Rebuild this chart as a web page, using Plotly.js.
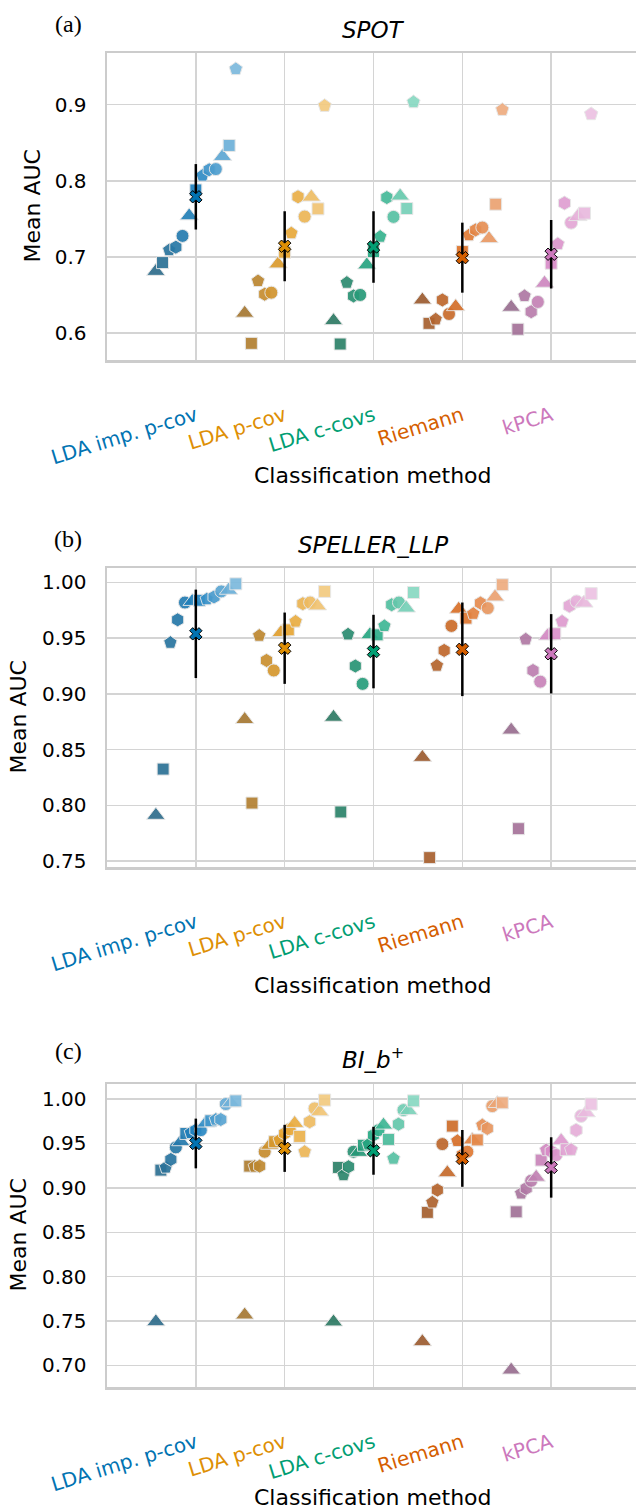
<!DOCTYPE html>
<html>
<head>
<meta charset="utf-8">
<script src="https://cdn.plot.ly/plotly-3.0.1.min.js"></script>
<style>
html,body{margin:0;padding:0;overflow:hidden;background:#fff;}
#chart{width:640px;height:1511px;}
</style>
</head>
<body>
<div id="chart"></div>
<script>
// ---------------- DATA ----------------
const methods = ["LDA imp. p-cov", "LDA p-cov", "LDA c-covs", "Riemann", "kPCA"];
const panelTitles = ["SPOT", "SPELLER_LLP", "BI_b<sup>+</sup>"];
const panelLabels = ["(a)", "(b)", "(c)"];

// SPOT (13 subjects, in plotted order)
const spot_lda_imp   = [0.681, 0.6925, 0.709, 0.7128, 0.7276, 0.754, 0.788, 0.807, 0.8145, 0.8154, 0.832, 0.8465, 0.947];
const spot_lda_pcov  = [0.626, 0.5864, 0.6684, 0.651, 0.653, 0.6908, 0.7062, 0.7312, 0.779, 0.753, 0.7786, 0.7632, 0.8987];
const spot_lda_ccovs = [0.6162, 0.5855, 0.6662, 0.6487, 0.650, 0.6895, 0.707, 0.7267, 0.778, 0.7526, 0.780, 0.7636, 0.9035];
const spot_riemann   = [0.6434, 0.6127, 0.618, 0.6434, 0.625, 0.6346, 0.707, 0.7286, 0.7355, 0.7386, 0.724, 0.7693, 0.8934];
const spot_kpca      = [0.6338, 0.6049, 0.6487, 0.628, 0.6408, 0.6654, 0.6917, 0.717, 0.7707, 0.745, 0.753, 0.7575, 0.8878];
const spot_mean = [0.779, 0.714, 0.713, 0.699, 0.7035];
const spot_sd   = [0.043, 0.046, 0.047, 0.046, 0.045];

// SPELLER_LLP (12 subjects)
const llp_lda_imp   = [0.791, 0.8325, 0.946, 0.9665, 0.982, 0.983, 0.984, 0.985, 0.987, 0.992, 0.993, 0.9988];
const llp_lda_pcov  = [0.877, 0.802, 0.9523, 0.930, 0.921, 0.955, 0.9575, 0.965, 0.981, 0.982, 0.979, 0.992];
const llp_lda_ccovs = [0.879, 0.794, 0.9535, 0.925, 0.909, 0.953, 0.953, 0.961, 0.980, 0.982, 0.977, 0.991];
const llp_riemann   = [0.843, 0.753, 0.9254, 0.939, 0.961, 0.976, 0.968, 0.972, 0.9815, 0.977, 0.987, 0.998];
const llp_kpca      = [0.8675, 0.779, 0.949, 0.921, 0.911, 0.952, 0.954, 0.965, 0.979, 0.983, 0.9815, 0.990];
const llp_mean = [0.9539, 0.941, 0.938, 0.940, 0.936];
const llp_sd   = [0.0397, 0.032, 0.033, 0.042, 0.0356];

// BI_b+ (17 subjects)
const bi_lda_imp   = [0.7492, 0.920, 0.923, 0.932, 0.9456, 0.952, 0.9613, 0.962, 0.965, 0.965, 0.973, 0.9756, 0.977, 0.977, 0.9944, 0.9958, 0.998];
const bi_lda_pcov  = [0.7568, 0.9245, 0.924, 0.9245, 0.9407, 0.948, 0.952, 0.954, 0.9613, 0.966, 0.9726, 0.958, 0.9407, 0.9745, 0.9895, 0.9857, 0.9989];
const bi_lda_ccovs = [0.749, 0.923, 0.9144, 0.9238, 0.9407, 0.940, 0.948, 0.949, 0.9595, 0.965, 0.9707, 0.9546, 0.933, 0.9718, 0.9876, 0.987, 0.998];
const bi_riemann   = [0.7267, 0.8724, 0.8837, 0.8975, 0.9493, 0.917, 0.9696, 0.953, 0.937, 0.9407, 0.954, 0.954, 0.9707, 0.967, 0.9921, 0.995, 0.9958];
const bi_kpca      = [0.6948, 0.873, 0.8938, 0.8994, 0.908, 0.912, 0.9313, 0.9426, 0.941, 0.937, 0.953, 0.943, 0.943, 0.965, 0.981, 0.9846, 0.9944];
const bi_mean = [0.950, 0.9445, 0.9418, 0.9332, 0.923];
const bi_sd   = [0.028, 0.0265, 0.027, 0.032, 0.034];

const yTicksA = [0.6, 0.7, 0.8, 0.9];
const yTicksB = [0.75, 0.80, 0.85, 0.90, 0.95, 1.00];
const yTicksC = [0.70, 0.75, 0.80, 0.85, 0.90, 0.95, 1.00];

// ---------------- STYLE ----------------
const baseColors = ["#0173b2", "#de8f05", "#029e73", "#d55e00", "#cc78bc"];
const shadeDark  = ["#2f6d8c", "#a67832", "#2e7a64", "#9c5c30", "#996e90"];
const shadeMid   = ["#1f82c0", "#e6a22c", "#25aa84", "#de7228", "#d98cc8"];
const shadeLight = ["#7cb9dd", "#f2ca80", "#88d8c2", "#eeac80", "#ecc2e2"];
const symbolCycle = ["triangle-up", "square", "pentagon", "hexagon", "circle"];
const symbolSize  = [16, 12, 14, 14, 13];

function hexToRgb(h){return [parseInt(h.slice(1,3),16),parseInt(h.slice(3,5),16),parseInt(h.slice(5,7),16)];}
function mix(a,b,t){const A=hexToRgb(a),B=hexToRgb(b);return 'rgb('+A.map((v,k)=>Math.round(v+(B[k]-v)*t)).join(',')+')';}
function shade(m,t){return t<0.5 ? mix(shadeDark[m],shadeMid[m],t*2) : mix(shadeMid[m],shadeLight[m],(t-0.5)*2);}

const W = 640, H = 1511;
const fx = p => p / W;
const fy = p => 1 - p / H;

const panels = [
  {data:[spot_lda_imp, spot_lda_pcov, spot_lda_ccovs, spot_riemann, spot_kpca], mean:spot_mean, sd:spot_sd,
   top:53, bot:360, range:[0.5645, 0.968], ticks:yTicksA, fmt:'.1f', titleY:30, labelY:24, ytX:32, xtY:475},
  {data:[llp_lda_imp, llp_lda_pcov, llp_lda_ccovs, llp_riemann, llp_kpca], mean:llp_mean, sd:llp_sd,
   top:568, bot:867, range:[0.7446, 1.013], ticks:yTicksB, fmt:'.2f', titleY:545, labelY:539, ytX:18, xtY:985},
  {data:[bi_lda_imp, bi_lda_pcov, bi_lda_ccovs, bi_riemann, bi_kpca], mean:bi_mean, sd:bi_sd,
   top:1084, bot:1387, range:[0.6757, 1.017], ticks:yTicksC, fmt:'.2f', titleY:1058, labelY:1051, ytX:18, xtY:1497}
];

const traces = [];
const layout = {
  width: W, height: H, margin:{l:0,r:0,t:0,b:0},
  paper_bgcolor:'#fff', plot_bgcolor:'#fff', showlegend:false,
  font:{family:'DejaVu Sans', color:'#000'},
  annotations: []
};

const tickText = methods.map((m,i)=>'<span style="color:'+baseColors[i]+'">'+m+'</span>');

panels.forEach((P, pi) => {
  const xa = 'x' + (pi ? pi+1 : ''), ya = 'y' + (pi ? pi+1 : '');
  P.data.forEach((vals, m) => {
    const n = vals.length;
    traces.push({
      type:'scatter', mode:'markers', xaxis:xa, yaxis:ya, name:methods[m],
      x: vals.map((v,i)=> m + (i/(n-1) - 0.5) * 0.9),
      y: vals,
      marker:{
        size: vals.map((v,i)=>symbolSize[i % 5]),
        symbol: vals.map((v,i)=>symbolCycle[i % 5]),
        color: vals.map((v,i)=>shade(m, i/(n-1))),
        opacity: 0.92,
        line:{color:'#e6e6e6', width:1}
      },
      hoverinfo:'y'
    });
  });
  traces.push({
    type:'scatter', mode:'markers', xaxis:xa, yaxis:ya, name:'mean',
    x: methods.map((m,i)=>i), y: P.mean,
    error_y:{type:'data', array:P.sd, visible:true, width:0, thickness:2.5, color:'#000'},
    marker:{symbol:'x', size:11, color:baseColors, line:{color:'#000', width:1}}
  });

  const xk = 'xaxis' + (pi ? pi+1 : ''), yk = 'yaxis' + (pi ? pi+1 : '');
  layout[xk] = {
    domain:[fx(107), 1], range:[-1, 5], anchor: ya,
    tickvals:[0,1,2,3,4], ticktext: tickText, tickangle:-17,
    tickfont:{size:20, family:'DejaVu Sans'},
    ticks:'outside', ticklen:34, tickcolor:'rgba(0,0,0,0)',
    showgrid:true, gridcolor:'#d4d4d4', gridwidth:1.5,
    showline:true, mirror:true, linecolor:'#cccccc', linewidth:2.5,
    zeroline:false, fixedrange:true
  };
  layout[yk] = {
    domain:[fy(P.bot), fy(P.top)], range:P.range, anchor: xa,
    tickvals:P.ticks, tickformat:P.fmt,
    tickfont:{size:20, family:'DejaVu Sans'},
    ticks:'outside', ticklen:14, tickcolor:'rgba(0,0,0,0)',
    showgrid:true, gridcolor:'#d4d4d4', gridwidth:1.5,
    showline:true, mirror:true, linecolor:'#cccccc', linewidth:2.5,
    zeroline:false, fixedrange:true
  };

  layout.annotations.push(
    {xref:'paper', yref:'paper', x:fx(373), y:fy(P.titleY), xanchor:'center', yanchor:'middle',
     text:panelTitles[pi], showarrow:false, font:{size:23, family:'DejaVu Sans', style:'italic'}},
    {xref:'paper', yref:'paper', x:fx(68), y:fy(P.labelY), xanchor:'center', yanchor:'middle',
     text:panelLabels[pi], showarrow:false, font:{size:24, family:'Liberation Serif'}},
    {xref:'paper', yref:'paper', x:fx(P.ytX), y:fy((P.top+P.bot)/2), xanchor:'center', yanchor:'middle',
     text:'Mean AUC', textangle:-90, showarrow:false, font:{size:22, family:'DejaVu Sans'}},
    {xref:'paper', yref:'paper', x:fx(373), y:fy(P.xtY), xanchor:'center', yanchor:'middle',
     text:'Classification method', showarrow:false, font:{size:22, family:'DejaVu Sans'}}
  );
});

Plotly.newPlot('chart', traces, layout, {staticPlot:true, displayModeBar:false});
</script>
</body>
</html>
